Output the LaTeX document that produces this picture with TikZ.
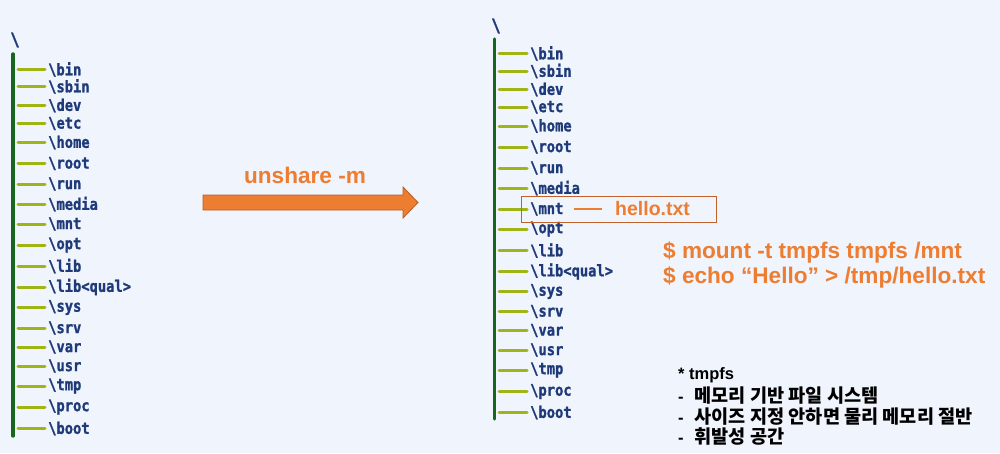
\documentclass[tikz,border=0pt]{standalone}
\usepackage{fontspec}
\setmainfont{Liberation Sans}
\newfontfamily\treefont{DejaVuSansMono-Bold.ttf}[FakeStretch=0.86,FakeBold=1.2]
\newfontfamily\krfont{Noto Sans CJK KR}
\definecolor{bgc}{HTML}{F0F4FD}
\definecolor{treetext}{HTML}{1E3A78}
\definecolor{barc}{HTML}{17661F}
\definecolor{branchc}{HTML}{A0B416}
\definecolor{orangec}{HTML}{ED7D31}
\definecolor{arrowline}{HTML}{B85E24}
\definecolor{boxc}{HTML}{C0622A}
\tikzset{
  item/.style={anchor=west,inner sep=0pt,font=\treefont\fontsize{16}{18}\selectfont,text=treetext},
  rootlbl/.style={anchor=center,inner sep=0pt,font=\treefont\fontsize{18}{20}\selectfont,text=treetext},
  bar/.style={draw=barc,line width=3.4pt,line cap=round},
  branch/.style={draw=branchc,line width=3pt,line cap=round},
  orangelbl/.style={inner sep=0pt,font=\bfseries\fontsize{22.6}{26}\selectfont,text=orangec},
  note/.style={anchor=west,inner sep=0pt,font=\bfseries\fontsize{16.5}{18}\selectfont,text=black},
}
\newcommand{\krtext}[1]{{\krfont\bfseries\fontsize{18.6}{20}\selectfont #1}}
\begin{document}
\begin{tikzpicture}[x=1pt,y=-1pt]
\fill[bgc] (0,0) rectangle (1000,453);
\useasboundingbox (0,0) rectangle (1000,453);

% ---------- left tree ----------
\node[rootlbl] (Lroot) at (15,40) {\textbackslash};
\coordinate (Ltop) at (13,54);
\coordinate (Lbot) at (13,436);
\draw[bar] (Ltop) -- (Lbot);
\foreach \n/\t/\yy in {1/bin/69.5,2/sbin/86.5,3/dev/105.5,4/etc/123.5,5/home/142.5,6/root/163.5,7/run/184,8/media/204,9/mnt/224,10/opt/245,11/lib/266,12/lib<qual>/287,13/sys/307.5,14/srv/328,15/var/347,16/usr/366,17/tmp/386,18/proc/407,19/boot/428.5}{
  \node[item] (L\n) at (48,\yy) {\textbackslash\t};
  \draw[branch] ([xshift=-3pt]L\n.west) -- ([xshift=-30pt]L\n.west);
}

% ---------- arrow ----------
\node[orangelbl] (cmd) at (305,175) {unshare -m};
\coordinate (A0) at (203,195);
\draw[fill=orangec,draw=arrowline,line width=0.8pt]
  (A0) -- ++(200,0) -- ++(0,-8) -- ++(15,15.5) -- ++(-15,15.5) -- ++(0,-8) -- ++(-200,0) -- cycle;

% ---------- right tree ----------
\node[rootlbl] (Rroot) at (496,26) {\textbackslash};
\coordinate (Rtop) at (494.5,39);
\coordinate (Rbot) at (494.5,419);
\draw[bar] (Rtop) -- (Rbot);
\foreach \n/\t/\yy in {1/bin/53.5,2/sbin/71,3/dev/89.5,4/etc/107,5/home/126,6/root/147,7/run/168,8/media/188,9/mnt/209,10/opt/229,11/lib/250.5,12/lib<qual>/271.5,13/sys/291.5,14/srv/311.5,15/var/330.5,16/usr/350,17/tmp/370,18/proc/391.5,19/boot/412.5}{
  \node[item] (R\n) at (530,\yy) {\textbackslash\t};
  \draw[branch] ([xshift=-3pt]R\n.west) -- ([xshift=-31pt]R\n.west);
}

% mount box
\node[orangelbl,anchor=west,font=\bfseries\fontsize{19.5}{22}\selectfont] (hello) at (615,209) {hello.txt};
\draw[orangec,line width=2pt] ([xshift=10pt]R9.east) -- ([xshift=-13pt]hello.west);
\node[draw=boxc,line width=1.4pt,inner sep=0pt,minimum width=195pt,minimum height=26pt,anchor=north west] (mbox) at (521,196) {};

% commands
\node[orangelbl,anchor=west] (c1) at (663,252) {\$ mount -t tmpfs tmpfs /mnt};
\node[orangelbl,anchor=west] (c2) at (663,277) {\$ echo “Hello” > /tmp/hello.txt};

% notes
\node[note] (n0) at (678,375) {* tmpfs};
\node[note] (n1) at (678,396) {-\hspace{11pt}\krtext{메모리 기반 파일 시스템}};
\node[note] (n2) at (678,416.5) {-\hspace{11pt}\krtext{사이즈 지정 안하면 물리 메모리 절반}};
\node[note] (n3) at (678,436) {-\hspace{11pt}\krtext{휘발성 공간}};
\end{tikzpicture}
\end{document}
